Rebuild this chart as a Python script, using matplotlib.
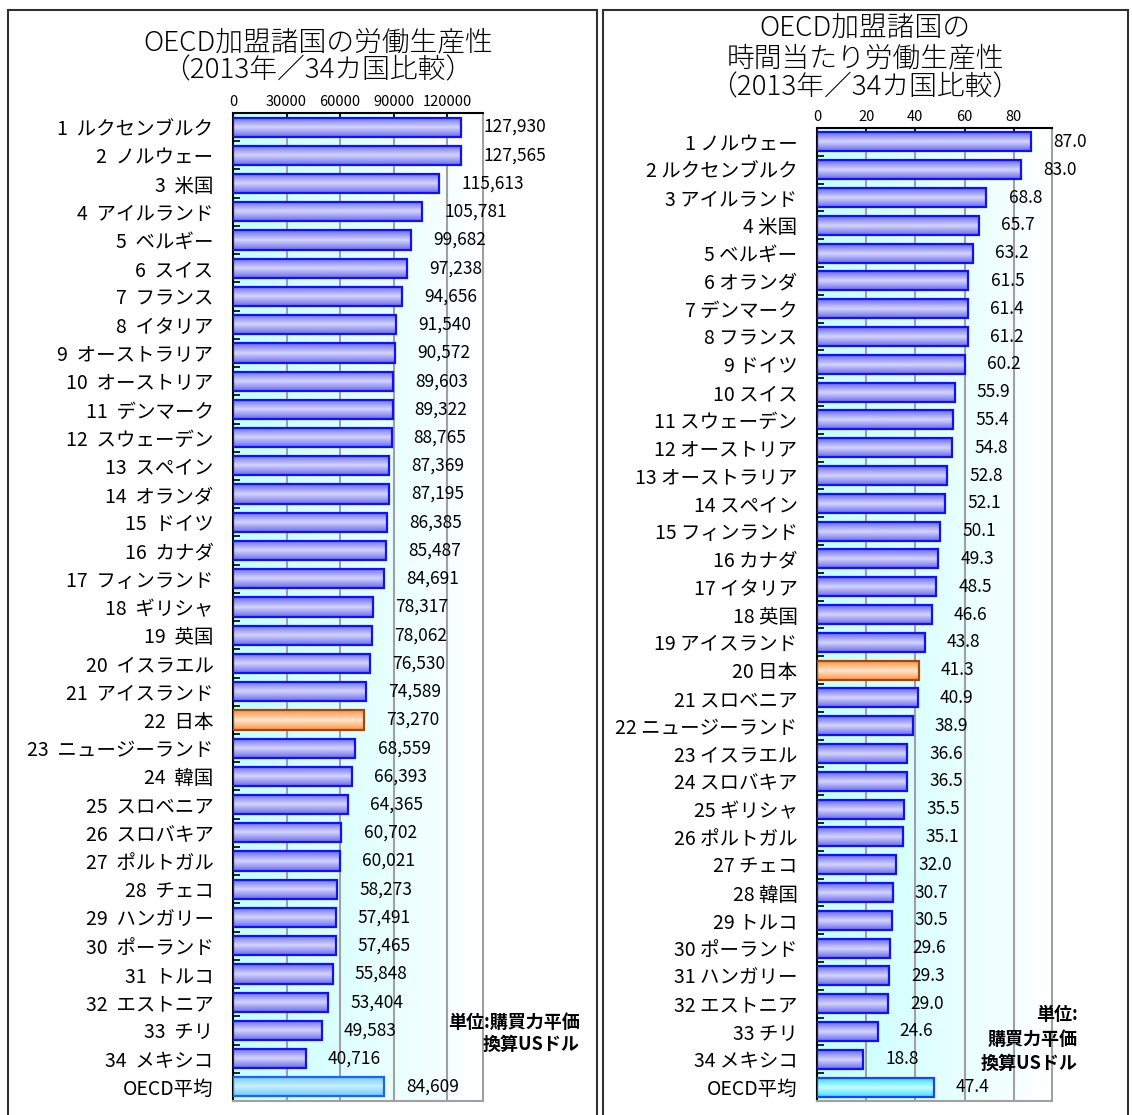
import numpy as np
import matplotlib
matplotlib.use('Agg')
import matplotlib.pyplot as plt
from matplotlib.colors import LinearSegmentedColormap
from matplotlib.patches import Rectangle

plt.rcParams['font.family'] = ['Noto Sans CJK JP', 'DejaVu Sans']

# 労働生産性 (USドル, 購買力平価換算)
names_year = ['ルクセンブルク', 'ノルウェー', '米国', 'アイルランド', 'ベルギー', 'スイス',
              'フランス', 'イタリア', 'オーストラリア', 'オーストリア', 'デンマーク',
              'スウェーデン', 'スペイン', 'オランダ', 'ドイツ', 'カナダ', 'フィンランド',
              'ギリシャ', '英国', 'イスラエル', 'アイスランド', '日本', 'ニュージーランド',
              '韓国', 'スロベニア', 'スロバキア', 'ポルトガル', 'チェコ', 'ハンガリー',
              'ポーランド', 'トルコ', 'エストニア', 'チリ', 'メキシコ']
values_year = [127930, 127565, 115613, 105781, 99682, 97238, 94656, 91540, 90572,
               89603, 89322, 88765, 87369, 87195, 86385, 85487, 84691, 78317, 78062,
               76530, 74589, 73270, 68559, 66393, 64365, 60702, 60021, 58273, 57491,
               57465, 55848, 53404, 49583, 40716]
oecd_year = 84609
ticks_year = [0, 30000, 60000, 90000, 120000]

# 時間当たり労働生産性 (USドル)
names_hour = ['ノルウェー', 'ルクセンブルク', 'アイルランド', '米国', 'ベルギー', 'オランダ',
              'デンマーク', 'フランス', 'ドイツ', 'スイス', 'スウェーデン', 'オーストリア',
              'オーストラリア', 'スペイン', 'フィンランド', 'カナダ', 'イタリア', '英国',
              'アイスランド', '日本', 'スロベニア', 'ニュージーランド', 'イスラエル',
              'スロバキア', 'ギリシャ', 'ポルトガル', 'チェコ', '韓国', 'トルコ',
              'ポーランド', 'ハンガリー', 'エストニア', 'チリ', 'メキシコ']
values_hour = [87.0, 83.0, 68.8, 65.7, 63.2, 61.5, 61.4, 61.2, 60.2, 55.9, 55.4, 54.8,
               52.8, 52.1, 50.1, 49.3, 48.5, 46.6, 43.8, 41.3, 40.9, 38.9, 36.6, 36.5,
               35.5, 35.1, 32.0, 30.7, 30.5, 29.6, 29.3, 29.0, 24.6, 18.8]
oecd_hour = 47.4
ticks_hour = [0, 20, 40, 60, 80]

W, H = 1132, 1115

BLUE = ('#6c6ce8', '#d4d4ff', '#1010ff')
ORANGE = ('#ff9448', '#ffe6cc', '#a04810')


def gradient_bars(ax, bars, styles):
    grad = 1 - np.abs(np.linspace(-1, 1, 40))
    for p, (c_out, c_in, ec) in zip(bars, styles):
        cmap = LinearSegmentedColormap.from_list('', [c_out, c_in])
        x0, y0 = p.get_x(), p.get_y()
        ax.imshow(grad[:, None], cmap=cmap, vmin=0, vmax=1, aspect='auto',
                  extent=(x0, x0 + p.get_width(), y0, y0 + p.get_height()),
                  interpolation='bilinear', zorder=2)
        p.set_edgecolor(ec)


def panel(rect, names, values, oecd, ticks, xmax, fmt, sep, avg_style):
    ax = fig.add_axes(rect)
    labels = [f'{i + 1}{sep}{n}' for i, n in enumerate(names)] + ['OECD平均']
    vals = list(values) + [oecd]
    pos = np.arange(len(vals))
    bars = ax.barh(pos, vals, height=0.68, fill=False, linewidth=1.6, zorder=3)
    styles = [ORANGE if n == '日本' else BLUE for n in names] + [avg_style]
    gradient_bars(ax, bars, styles)

    # background: light cyan fading to white
    bg = LinearSegmentedColormap.from_list('', ['#c4ffff', '#ffffff'])
    ax.imshow(np.linspace(0, 1, 256)[None, :], cmap=bg, aspect='auto',
              extent=(0, xmax, len(vals) - 0.5, -0.5), zorder=0.1)

    for p, v in zip(bars, vals):
        ax.annotate(fmt(v), xy=(p.get_width(), p.get_y() + p.get_height() / 2),
                    xytext=(16, 0), textcoords='offset points', ha='left', va='center',
                    fontsize=12.5, annotation_clip=False, zorder=4)

    ax.set_xlim(0, xmax)
    ax.set_ylim(len(vals) - 0.5, -0.5)
    ax.xaxis.tick_top()
    ax.set_xticks(ticks)
    ax.set_xticklabels([str(t) for t in ticks], fontsize=10.5)
    ax.tick_params(axis='x', direction='in', length=5, pad=3, width=1.2)
    ax.set_yticks(pos)
    ax.set_yticklabels(labels, fontsize=14)
    ax.tick_params(axis='y', length=0, pad=14)
    ax.set_yticks(np.arange(-0.5, len(vals)), minor=True)
    ax.tick_params(axis='y', which='minor', direction='in', length=5, width=1.2)
    ax.set_axisbelow(True)
    ax.grid(axis='x', color='#a0a0a0', linewidth=1.5)
    for side in ('left', 'top'):
        ax.spines[side].set_linewidth(1.5)
    for side in ('right', 'bottom'):
        ax.spines[side].set_color('#a0a0a0')
        ax.spines[side].set_linewidth(1.5)
    return ax


fig = plt.figure(figsize=(W / 100, H / 100), dpi=100)

# panel frames
for x0, x1 in ((8, 597), (603, 1128)):
    fig.add_artist(Rectangle((x0 / W, -0.01), (x1 - x0) / W, 1 - 10 / H + 0.01,
                             transform=fig.transFigure, fill=False,
                             edgecolor='#303030', linewidth=1.5))

panel([233 / W, 1 - 1101 / H, 250 / W, 988 / H], names_year, values_year, oecd_year,
      ticks_year, 140000, lambda v: f'{v:,}', '  ', ('#70c8ff', '#c8f0ff', '#2060ff'))
panel([817 / W, 1 - 1101 / H, 235 / W, 973 / H], names_hour, values_hour, oecd_hour,
      ticks_hour, 95.5, lambda v: f'{v:.1f}', ' ', ('#38e4ff', '#c8fcff', '#2040ff'))

# titles
title_kw = dict(ha='center', va='center', fontsize=20, fontweight='light')
fig.text(318 / W, 1 - 42 / H, 'OECD加盟諸国の労働生産性', **title_kw)
fig.text(318 / W, 1 - 70 / H, '（2013年／34カ国比較）', **title_kw)
fig.text(865 / W, 1 - 28 / H, 'OECD加盟諸国の', **title_kw)
fig.text(865 / W, 1 - 58 / H, '時間当たり労働生産性', **title_kw)
fig.text(865 / W, 1 - 87 / H, '（2013年／34カ国比較）', **title_kw)

# units
unit_kw = dict(ha='right', va='center', fontsize=13, fontweight='bold')
fig.text(580 / W, 1 - 1022 / H, '単位:購買力平価', **unit_kw)
fig.text(580 / W, 1 - 1044 / H, '換算USドル', **unit_kw)
for y, s in ((1015, '単位:'), (1039, '購買力平価'), (1063, '換算USドル')):
    fig.text(1078 / W, 1 - y / H, s, **unit_kw)

fig.savefig('out.png', dpi=100)
